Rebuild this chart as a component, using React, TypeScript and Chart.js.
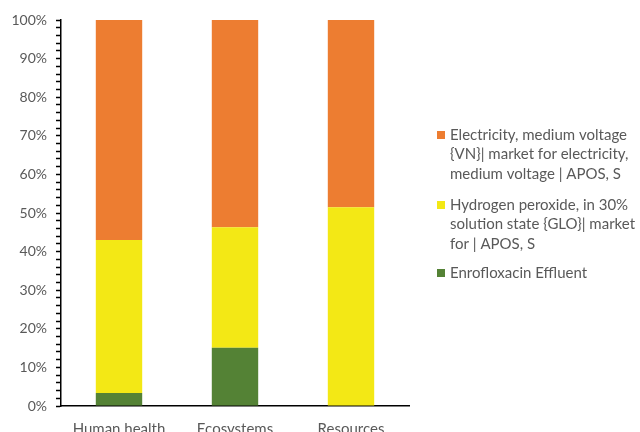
import React, { useEffect, useRef } from "react";
import { Chart, registerables } from "chart.js";

Chart.register(...registerables);

const categories = ["Human health", "Ecosystems", "Resources"];
const effluentShare = [3.4, 15.1, 0];
const peroxideShare = [39.6, 31.2, 51.5];
const electricityShare = [57.0, 53.7, 48.5];

const legendEntries = [
  {
    color: "#ED7D31",
    lines: ["Electricity, medium voltage", "{VN}| market for electricity,", "medium voltage | APOS, S"],
  },
  {
    color: "#F3E815",
    lines: ["Hydrogen peroxide, in 30%", "solution state {GLO}| market", "for | APOS, S"],
  },
  { color: "#548235", lines: ["Enrofloxacin Effluent"] },
];

const FONT = "Lato, 'Open Sans', sans-serif";
const TEXT = "#595959";

const sideLegend = {
  id: "sideLegend",
  afterDraw(chart: any) {
    const ctx = chart.ctx;
    ctx.save();
    ctx.font = `15px ${FONT}`;
    ctx.textBaseline = "middle";
    ctx.textAlign = "left";
    const boxX = 437;
    const textX = 450;
    const lineH = 19.5;
    const starts = [135, 205, 273];
    legendEntries.forEach((entry, i) => {
      const y0 = starts[i];
      ctx.fillStyle = entry.color;
      ctx.fillRect(boxX, y0 - 4, 8, 8);
      ctx.fillStyle = TEXT;
      entry.lines.forEach((line, j) => {
        ctx.fillText(line, textX, y0 + j * lineH);
      });
    });
    ctx.restore();
  },
};

export default function App() {
  const canvasRef = useRef<HTMLCanvasElement | null>(null);

  useEffect(() => {
    if (!canvasRef.current) return;
    const chart = new Chart(canvasRef.current, {
      type: "bar",
      data: {
        labels: categories,
        datasets: [
          { label: "Enrofloxacin Effluent", data: effluentShare, backgroundColor: "#548235" },
          { label: "Hydrogen peroxide, in 30% solution state {GLO}| market for | APOS, S", data: peroxideShare, backgroundColor: "#F3E815" },
          { label: "Electricity, medium voltage {VN}| market for electricity, medium voltage | APOS, S", data: electricityShare, backgroundColor: "#ED7D31" },
        ],
      },
      options: {
        responsive: false,
        animation: false,
        layout: { padding: { top: 20, right: 231, left: 0, bottom: 0 } },
        datasets: { bar: { categoryPercentage: 1, barPercentage: 0.4, borderWidth: 0 } },
        plugins: { legend: { display: false }, tooltip: { enabled: false } },
        scales: {
          x: {
            stacked: true,
            grid: { display: true, drawOnChartArea: false, drawTicks: false },
            border: { display: true, color: "#000", width: 1.5 },
            ticks: { color: TEXT, font: { family: FONT, size: 15 }, padding: 14, maxRotation: 0 },
            afterFit(scale: any) {
              scale.height = 26;
            },
          },
          y: {
            stacked: true,
            min: 0,
            max: 100,
            grid: {
              display: true,
              drawOnChartArea: false,
              drawTicks: true,
              tickLength: 5,
              tickColor: "#000",
              tickWidth: 1.5,
            },
            border: { display: true, color: "#000", width: 1.5 },
            ticks: {
              stepSize: 2,
              autoSkip: false,
              color: TEXT,
              padding: 9,
              font: { family: FONT, size: 14 },
              callback: (v: any) => (Number(v) % 10 === 0 ? `${v}%` : ""),
            },
            afterFit(scale: any) {
              scale.width = 61;
            },
          },
        },
      },
      plugins: [sideLegend],
    });
    return () => chart.destroy();
  }, []);

  return (
    <div style={{ position: "fixed", left: 0, top: 0, width: 640, height: 432, background: "#fff" }}>
      <canvas ref={canvasRef} width={640} height={432} />
    </div>
  );
}
